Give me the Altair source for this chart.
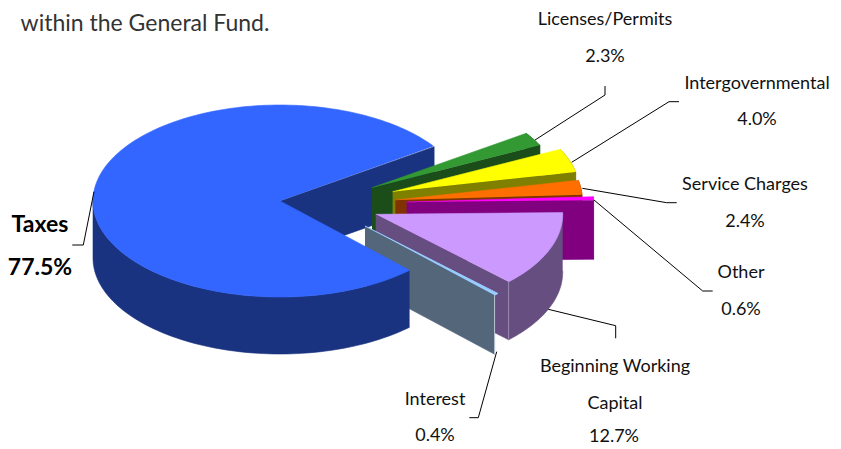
import math
import altair as alt
import pandas as pd

# --- values ---
categories = ["Licenses/Permits", "Intergovernmental", "Service Charges", "Other",
              "Beginning Working Capital", "Interest", "Taxes"]
shares = [2.3, 4.0, 2.4, 0.6, 12.7, 0.4, 77.5]
top_colors = ["#339933", "#FFFF00", "#FF6E00", "#FF00FF", "#CC99FF", "#99CCFF", "#3366FF"]
side_colors = ["#1A4D1A", "#808000", "#803300", "#800080", "#664F80", "#54677A", "#1A3380"]
percent_labels = ["2.3%", "4.0%", "2.4%", "0.6%", "12.7%", "0.4%", "77.5%"]

# --- layout (picture pixels) ---
W, H, M = 825, 441, 8
RX, RY = 187, 96
START = 34.5
PIVOTS = [(372, 187.7), (392.6, 191.7), (395.3, 200), (406.6, 202),
          (375.7, 214.3), (365, 226), (280, 201)]
DEPTHS = [57, 57, 57, 59, 58, 59, 57]

TEXTS = [
    ("within the General Fund.", 145, 24, 23, "normal", "#333333"),
    ("Licenses/Permits", 605, 20, 18, "normal", "#111111"),
    ("2.3%", 605, 57, 18, "normal", "#111111"),
    ("Intergovernmental", 757, 84, 18, "normal", "#111111"),
    ("4.0%", 757, 120, 18, "normal", "#111111"),
    ("Service Charges", 745, 185, 18, "normal", "#111111"),
    ("2.4%", 745, 222, 18, "normal", "#111111"),
    ("Other", 741, 273, 18, "normal", "#111111"),
    ("0.6%", 741, 310, 18, "normal", "#111111"),
    ("Beginning Working", 615, 367, 18, "normal", "#111111"),
    ("Capital", 615, 404, 18, "normal", "#111111"),
    ("12.7%", 614, 437, 18, "normal", "#111111"),
    ("Interest", 435, 400, 18, "normal", "#111111"),
    ("0.4%", 435, 436, 18, "normal", "#111111"),
    ("Taxes", 40, 225, 23, "bold", "#000000"),
    ("77.5%", 40, 268, 23, "bold", "#000000"),
]
LEADERS = [
    [(605, 86), (605, 95), (535, 140)],
    [(679, 101.7), (669, 101.7), (571.7, 162.3)],
    [(676.7, 202.7), (666.7, 202.7), (582.3, 188.3)],
    [(594, 200), (702.7, 291), (712.7, 291)],
    [(548.3, 309.3), (615.7, 325.7), (615.7, 338.3)],
    [(496.7, 351.7), (478.3, 417.7), (469.3, 417.7)],
    [(94, 191.7), (83.3, 245), (72.3, 245)],
]

xs = alt.Scale(domain=[M, M + W], range=[0, W], nice=False, zero=False)
ys = alt.Scale(domain=[M + H, M], range=[H, 0], nice=False, zero=False)
X = alt.X("x:Q", scale=xs, axis=None)
Y = alt.Y("y:Q", scale=ys, axis=None)


def rim(p, a):
    return (p[0] + RX * math.cos(math.radians(a)), p[1] - RY * math.sin(math.radians(a)))


def arc(p, a0, a1):
    n = max(2, int(abs(a1 - a0) / 1.5) + 1)
    return [rim(p, a0 + (a1 - a0) * i / n) for i in range(n + 1)]


def drop(points, d):
    return [(x, y + d) for x, y in points]


def poly(points, fill, stroke=None, sw=0.6):
    df = pd.DataFrame(points, columns=["x", "y"]).reset_index(names="i")
    return alt.Chart(df).mark_line(fill=fill, stroke=stroke or fill, strokeWidth=sw).encode(
        x=X, y=Y, order="i:Q")


layers = []
bounds = []
a = START
for s in shares:
    bounds.append((a, a - s * 3.6))
    a -= s * 3.6

# Taxes' cut face shows through the gap, behind all the other slices
tp = PIVOTS[6]
tip = rim(tp, START)
layers.append(poly([tp, tip, (tip[0], tip[1] + DEPTHS[6]), (tp[0], tp[1] + DEPTHS[6])], side_colors[6]))

for k in range(6):
    p, d = PIVOTS[k], DEPTHS[k]
    a0, a1 = bounds[k]
    edge = rim(p, a1)
    face = [p, edge, (edge[0], edge[1] + d), (p[0], p[1] + d)]
    outer = arc(p, a0, a1)
    outer_face = outer + drop(outer, d)[::-1]
    if k == 5:
        layers.append(poly(face, side_colors[k]))
        layers.append(poly([edge, (edge[0], edge[1] + d)], side_colors[k], "#B9C6D2", 1))
        layers.append(poly([p] + outer, top_colors[k], "#99CCFF", 1))
    elif k == 4:
        layers.append(poly(outer_face, side_colors[k]))
        layers.append(poly(face, side_colors[k]))
        layers.append(poly([edge, (edge[0], edge[1] + d)], side_colors[k], "#9C8AAE", 1))
        layers.append(poly([p] + outer, top_colors[k]))
    else:
        layers.append(poly(outer_face, side_colors[k]))
        layers.append(poly(face, side_colors[k]))
        layers.append(poly([p] + outer, top_colors[k]))

# Taxes' rim and top sit in front
a0, a1 = bounds[6]
lower = arc(tp, a0, -180)
layers.append(poly(lower + drop(lower, DEPTHS[6])[::-1], side_colors[6]))
layers.append(poly([tp] + arc(tp, a0, a1), top_colors[6]))

for line in LEADERS:
    df = pd.DataFrame(line, columns=["x", "y"]).reset_index(names="i")
    layers.append(alt.Chart(df).mark_line(color="#000000", strokeWidth=1).encode(x=X, y=Y, order="i:Q"))

for text, x, y, size, weight, color in TEXTS:
    df = pd.DataFrame({"x": [x], "y": [y], "t": [text]})
    layers.append(alt.Chart(df).mark_text(font="Lato", fontSize=size, fontWeight=weight, color=color,
                                          align="center", baseline="middle").encode(x=X, y=Y, text="t:N"))

chart = alt.layer(*layers).properties(
    width=W, height=H, padding=0, autosize=alt.AutoSizeParams(type="none"), background="white"
).configure_view(stroke=None)

chart.save("out.html", embed_options={"renderer": "svg", "actions": False})
